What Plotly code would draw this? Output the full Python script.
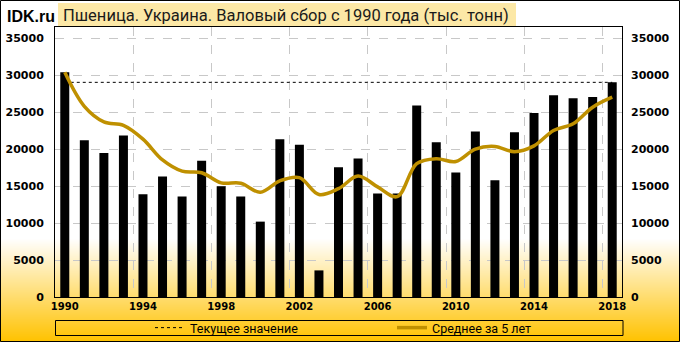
import plotly.graph_objects as go

years = list(range(1990, 2019))
wheat = [30400, 21200, 19500, 21850, 13900, 16300, 13600, 18450, 15000, 13600,
         10200, 21350, 20600, 3600, 17550, 18750, 14000, 14000, 25900, 20950,
         16850, 22400, 15800, 22300, 24900, 27300, 26900, 27050, 29050]
avg5 = [30400, 25800, 23700, 23240, 21370, 18550, 17030, 16820, 15450, 15390,
        14170, 15720, 16150, 13870, 14660, 16370, 14900, 13580, 18040, 18720,
        18340, 20020, 20380, 19660, 20450, 22540, 23440, 25690, 27040]
current_value = 29050
x_ticks = [1990, 1994, 1998, 2002, 2006, 2010, 2014, 2018]
y_ticks = [0, 5000, 10000, 15000, 20000, 25000, 30000, 35000]
x_grid = [1993.5, 1997.5, 2001.5, 2005.5, 2009.5, 2013.5, 2017.5]

W, H = 680, 342
ML, MR, MT, MB = 55, 58, 27, 45
PW, PH = W - ML - MR, H - MT - MB


def pxx(px):
    return (px - ML) / PW


def pxy(py):
    return (H - MB - py) / PH


shapes = []
# background gradient
y_start, y_end = 238, 342
top_c = (255, 255, 255)
bot_c = (255, 194, 0)
for py in range(y_start, y_end):
    t = (py - y_start) / (y_end - 1 - y_start)
    c = tuple(round(top_c[i] + (bot_c[i] - top_c[i]) * t) for i in range(3))
    shapes.append(dict(type="rect", xref="paper", yref="paper",
                       x0=pxx(-1), x1=pxx(W + 1), y0=pxy(py + 1.2), y1=pxy(py),
                       fillcolor="rgb(%d,%d,%d)" % c, line=dict(width=0), layer="below"))
# title box
shapes.append(dict(type="rect", xref="paper", yref="paper",
                   x0=pxx(58), x1=pxx(516), y0=pxy(27), y1=pxy(3),
                   fillcolor="#FCE8A6", line=dict(width=0), layer="below"))
# legend box
shapes.append(dict(type="rect", xref="paper", yref="paper",
                   x0=pxx(55.5), x1=pxx(623), y0=pxy(335.5), y1=pxy(320.5),
                   fillcolor="rgba(0,0,0,0)", line=dict(color="black", width=1), layer="above"))
# outer border
shapes.append(dict(type="rect", xref="paper", yref="paper",
                   x0=pxx(0.5), x1=pxx(W - 0.5), y0=pxy(H - 0.5), y1=pxy(0.5),
                   fillcolor="rgba(0,0,0,0)", line=dict(color="black", width=1), layer="above"))

fig = go.Figure()
fig.add_trace(go.Bar(x=years, y=wheat, width=0.46, marker=dict(color="black", line=dict(width=0)),
                     showlegend=False, hoverinfo="x+y"))
fig.add_trace(go.Scatter(x=years, y=[current_value] * len(years), mode="lines",
                         line=dict(color="black", width=1, dash="3px,3px"),
                         name="Текущее значение", legend="legend"))
fig.add_trace(go.Scatter(x=years, y=avg5, mode="lines",
                         line=dict(color="#BF9000", width=3.5, shape="spline", smoothing=1.0),
                         name="Среднее за 5 лет", legend="legend2"))
fig.add_trace(go.Scatter(x=[years[0]], y=[0], yaxis="y2", mode="markers",
                         marker=dict(opacity=0), showlegend=False, hoverinfo="skip"))

tick_font = dict(family="DejaVu Sans", size=11, color="black", weight="bold")
leg_font = dict(family="Roboto", size=12.5, color="black")
y_text = [str(v) for v in y_ticks]

fig.update_layout(
    width=W, height=H,
    margin=dict(l=ML, r=MR, t=MT, b=MB, pad=0, autoexpand=False),
    paper_bgcolor="white",
    plot_bgcolor="rgba(0,0,0,0)",
    shapes=shapes,
    bargap=0.5,
    xaxis=dict(range=[1989.5, 2018.5], tickmode="array", tickvals=x_ticks,
               ticktext=[str(v) for v in x_ticks], showgrid=False, zeroline=False,
               showline=True, mirror=True, linecolor="black", linewidth=1,
               ticks="", tickfont=dict(family="DejaVu Sans", size=10, color="black", weight="bold"),
               minor=dict(tickmode="array", tickvals=x_grid, showgrid=True,
                          gridcolor="#C8C8C8", griddash="dash", gridwidth=1, ticks="")),
    yaxis=dict(range=[0, 36540], tickmode="array", tickvals=y_ticks, ticktext=y_text,
               showgrid=True, gridcolor="#C8C8C8", griddash="dash", gridwidth=1,
               zeroline=False, showline=True, mirror=True, linecolor="black", linewidth=1,
               ticks="", ticklabelstandoff=8, tickfont=tick_font),
    yaxis2=dict(range=[0, 36540], tickmode="array", tickvals=y_ticks, ticktext=y_text,
                overlaying="y", side="right", showgrid=False, zeroline=False, showline=False,
                ticks="", ticklabelstandoff=8, tickfont=tick_font),
    legend=dict(orientation="h", x=pxx(150), y=pxy(328), xanchor="left", yanchor="middle",
                bgcolor="rgba(0,0,0,0)", borderwidth=0, font=leg_font),
    legend2=dict(orientation="h", x=pxx(392), y=pxy(328), xanchor="left", yanchor="middle",
                 bgcolor="rgba(0,0,0,0)", borderwidth=0, font=leg_font),
    annotations=[
        dict(text="IDK.ru", xref="paper", yref="paper", x=pxx(5), y=pxy(16),
             xanchor="left", yanchor="middle", showarrow=False,
             font=dict(family="Liberation Sans", size=16, color="black", weight="bold")),
        dict(text="Пшеница. Украина. Валовый сбор с 1990 года (тыс. тонн)", xref="paper", yref="paper",
             x=pxx(61), y=pxy(15.5), xanchor="left", yanchor="middle", showarrow=False,
             font=dict(family="Roboto", size=16.5, color="#1a1a1a")),
    ],
)

fig.write_html("out.html")
